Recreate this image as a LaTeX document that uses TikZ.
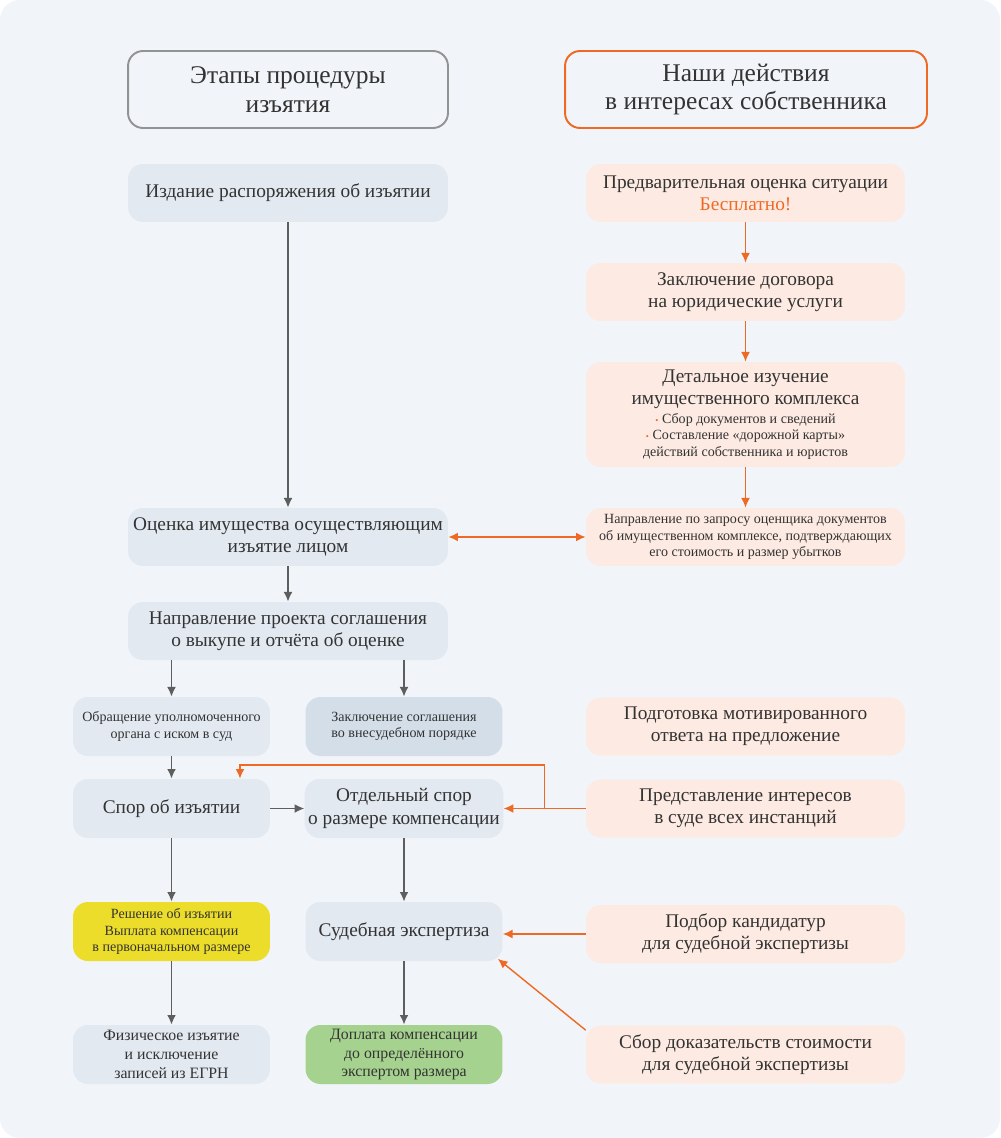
\documentclass[tikz,border=0pt]{standalone}
\usepackage{fontspec}
\setmainfont{Liberation Serif}
\usepackage{tikz}
\usetikzlibrary{arrows.meta}
\usetikzlibrary{positioning}
\usetikzlibrary{calc}

\definecolor{bgc}{HTML}{F1F4F8}
\definecolor{stg}{HTML}{E3E9F1}
\definecolor{stgd}{HTML}{D3DEE9}
\definecolor{peach}{HTML}{FDEBE3}
\definecolor{acc}{HTML}{EE6A24}
\definecolor{yel}{HTML}{EDDD2B}
\definecolor{grn}{HTML}{A6D28F}
\definecolor{txt}{HTML}{333333}
\definecolor{gar}{HTML}{5E5E5E}

\newcommand{\smtxt}{\fontsize{8}{9.4}\selectfont}
\newcommand{\bigtxt}{\fontsize{11}{12.6}\selectfont}
\newcommand{\bul}{\textcolor{acc}{\tiny\textbullet}\ }

\begin{document}
\begin{tikzpicture}[x=0.02cm, y=-0.02cm,
    box/.style={rectangle, rounded corners=0.3cm, align=center,
        text=txt, inner sep=2pt},
    hdr/.style={box, draw=#1, line width=1.1pt, fill=bgc,
        minimum height=1.54cm, font=\fontsize{14.5}{16.5}\selectfont},
    wide/.style={box, fill=#1, minimum width=6.4cm, minimum height=1.16cm,
        font=\bigtxt},
    narrow/.style={box, fill=#1, minimum width=3.94cm, minimum height=1.18cm,
        font=\fontsize{8}{9.2}\selectfont},
    act/.style={box, fill=peach, minimum width=6.38cm, minimum height=1.16cm,
        font=\bigtxt},
    garr/.style={-{Latex[length=5.5pt,width=5pt]}, gar, line width=0.9pt},
    oarr/.style={-{Latex[length=5.5pt,width=5pt]}, acc, line width=0.8pt}]

% background
\fill[white] (0,0) rectangle (1000,1138);
\fill[bgc, rounded corners=0.4cm] (0,0) rectangle (1000,1138);

% headers
\node[hdr=gray!85, minimum width=6.4cm] (hL) at (288,89.5)
    {Этапы процедуры\\изъятия};
\node[hdr=acc, minimum width=7.24cm] (hR) at (746,89.5)
    {Наши действия\\в интересах собственника};

% left column: stages
\node[wide=stg] (izd) at (288,193) {Издание распоряжения об изъятии};
\node[wide=stg] (ocen) at (288,537)
    {Оценка имущества осуществляющим\\изъятие лицом};
\node[wide=stg] (proj) at (288,631)
    {Направление проекта соглашения\\о выкупе и отчёта об оценке};

\node[narrow=stg] (obr) at (171.5,726.5)
    {Обращение уполномоченного\\органа с иском в суд};
\node[narrow=stgd] (zakl) at (404,726.5)
    {Заключение соглашения\\во внесудебном порядке};
\node[narrow=stg, font=\bigtxt] (spor) at (171.5,808.5)
    {Спор об изъятии};
\node[narrow=stg, font=\bigtxt] (otd) at (404,808.5)
    {Отдельный спор\\о размере компенсации};
\node[narrow=yel] (resh) at (171.5,931.5)
    {Решение об изъятии\\Выплата компенсации\\в первоначальном размере};
\node[narrow=stg, font=\bigtxt] (sud) at (404,931.5)
    {Судебная экспертиза};
\node[narrow=stg, font=\fontsize{9}{10.6}\selectfont] (fiz) at (171.5,1054.5)
    {Физическое изъятие\\и исключение\\записей из ЕГРН};
\node[narrow=grn, font=\fontsize{9}{10.6}\selectfont] (dop) at (404,1054.5)
    {Доплата компенсации\\до определённого\\экспертом размера};

% right column: our actions
\node[act] (pre) at (745.5,193)
    {Предварительная оценка ситуации\\\textcolor{acc}{Бесплатно!}};
\node[act] (dog) at (745.5,292)
    {Заключение договора\\на юридические услуги};
\node[act, minimum height=2.1cm, font=\smtxt] (det) at (745.5,414.5)
    {\bigtxt Детальное изучение\\[3.2pt]
     \bigtxt имущественного комплекса\\[1pt]
     \bul Сбор документов и сведений\\
     \bul Составление «дорожной карты»\\
     действий собственника и юристов};
\node[act, font=\smtxt] (zapr) at (745.5,537)
    {Направление по запросу оценщика документов\\
     об имущественном комплексе, подтверждающих\\
     его стоимость и размер убытков};
\node[act] (podg) at (745.5,726.5)
    {Подготовка мотивированного\\ответа на предложение};
\node[act] (pred) at (745.5,808.5)
    {Представление интересов\\в суде всех инстанций};
\node[act] (podb) at (745.5,934)
    {Подбор кандидатур\\для судебной экспертизы};
\node[act] (sbor) at (745.5,1054.5)
    {Сбор доказательств стоимости\\для судебной экспертизы};

% stage arrows
\draw[garr] (izd) -- (ocen);
\draw[garr] (ocen) -- (proj);
\draw[garr] (proj.south -| obr.north) -- (obr);
\draw[garr] (proj.south -| zakl.north) -- (zakl);
\draw[garr] (obr) -- (spor);
\draw[garr] (spor) -- (otd);
\draw[garr] (spor) -- (resh);
\draw[garr] (otd) -- (sud);
\draw[garr] (resh) -- (fiz);
\draw[garr] (sud) -- (dop);

% action arrows
\draw[oarr] (pre) -- (dog);
\draw[oarr] (dog) -- (det);
\draw[oarr] (det) -- (zapr);
\draw[oarr, {Latex[length=5.5pt,width=5pt]}-{Latex[length=5.5pt,width=5pt]}] (ocen) -- (zapr);
\draw[oarr] (pred) -- (otd);
\coordinate (jn) at ($(otd.east)!.5!(pred.west)$);
\coordinate (knee) at (540,765);
\coordinate (sporin) at ([xshift=1.37cm]spor.north);
\draw[oarr] (jn) -- (jn |- knee) -| (sporin);
\draw[oarr] (podb.west) -- (podb.west -| sud.east);
\draw[oarr] ([yshift=-0.1cm]sbor.north west) -- ([yshift=0.05cm,xshift=-0.1cm]sud.south east);

\end{tikzpicture}
\end{document}
